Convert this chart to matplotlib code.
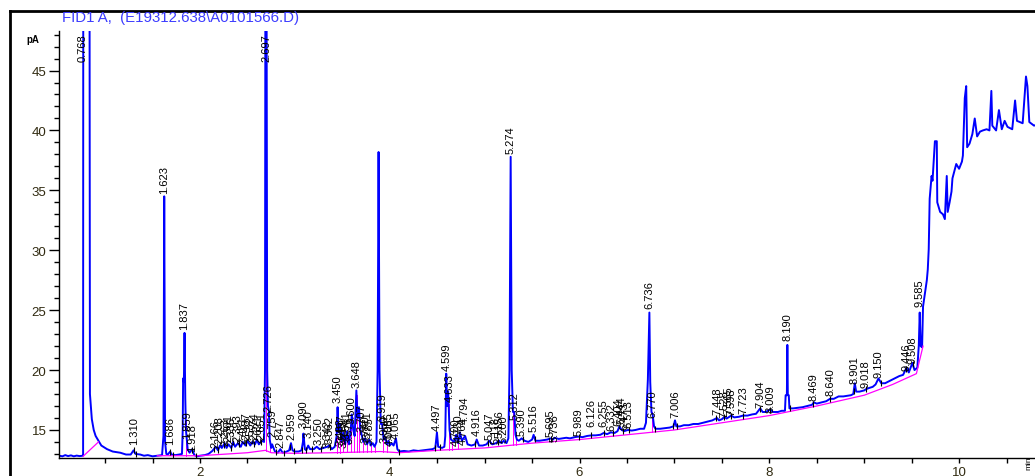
"""FID1 A chromatogram with peak retention time labels
"""
import numpy as np
import matplotlib
matplotlib.use('Agg')
import matplotlib.pyplot as plt
from matplotlib.lines import Line2D

title = 'FID1 A,  (E19312.638\\A0101566.D)'

# signal trace: (time min, signal pA)
trace = [
  (0.52, 12.85), (0.55, 12.80), (0.58, 12.90), (0.61, 12.82), (0.64, 12.88), (0.67, 12.80),
  (0.70, 12.86), (0.73, 12.82), (0.765, 12.85), (0.768, 12.9), (0.770, 60.0), (0.835, 60.0),
  (0.840, 18.0), (0.86, 15.9), (0.88, 15.0), (0.90, 14.5), (0.93, 14.1), (0.96, 13.7),
  (1.02, 13.4), (1.08, 13.2), (1.16, 13.1), (1.22, 12.95), (1.27, 12.95), (1.30, 13.3),
  (1.32, 13.0), (1.37, 12.95), (1.41, 12.85), (1.45, 12.9), (1.50, 12.8), (1.55, 12.85),
  (1.60, 12.9), (1.615, 14.5), (1.623, 34.5), (1.632, 14.0), (1.645, 13.0), (1.66, 12.95),
  (1.686, 13.2), (1.70, 12.95), (1.74, 12.9), (1.78, 12.95), (1.81, 13.0), (1.818, 15.0),
  (1.822, 19.3), (1.830, 19.0), (1.837, 23.1), (1.845, 17.6), (1.852, 15.0), (1.859, 14.4),
  (1.87, 13.4), (1.89, 13.1), (1.918, 13.4), (1.94, 12.9), (1.97, 12.8), (2.00, 12.85),
  (2.05, 12.9), (2.09, 13.0), (2.13, 13.25), (2.166, 13.6), (2.19, 13.3), (2.21, 13.7),
  (2.23, 13.5), (2.26, 13.9), (2.28, 13.5), (2.30, 13.8), (2.33, 13.5), (2.35, 14.0),
  (2.37, 13.6), (2.40, 13.9), (2.43, 13.6), (2.45, 14.0), (2.48, 13.7), (2.50, 14.1),
  (2.53, 13.7), (2.55, 14.0), (2.58, 13.8), (2.60, 14.2), (2.62, 13.8), (2.65, 14.1),
  (2.675, 14.0), (2.685, 20.0), (2.690, 60.0), (2.700, 60.0), (2.708, 20.0), (2.716, 17.0),
  (2.726, 16.6), (2.735, 14.2), (2.75, 13.5), (2.76, 13.8), (2.79, 13.2), (2.82, 13.1),
  (2.847, 13.4), (2.87, 13.1), (2.90, 13.15), (2.94, 13.3), (2.959, 13.9), (2.975, 13.3),
  (3.00, 13.2), (3.04, 13.2), (3.07, 13.3), (3.085, 14.0), (3.090, 14.7), (3.105, 13.4),
  (3.12, 13.3), (3.14, 13.7), (3.16, 13.4), (3.20, 13.4), (3.23, 13.6), (3.26, 13.4),
  (3.30, 13.5), (3.342, 13.6), (3.362, 13.7), (3.39, 13.4), (3.42, 13.6), (3.44, 14.5),
  (3.450, 16.9), (3.46, 14.8), (3.475, 15.5), (3.49, 14.0), (3.51, 14.8), (3.53, 13.8),
  (3.55, 14.9), (3.57, 13.8), (3.59, 15.2), (3.60, 16.3), (3.615, 15.0), (3.63, 14.5),
  (3.648, 18.3), (3.66, 16.0), (3.675, 16.9), (3.69, 15.0), (3.707, 14.5), (3.72, 14.0),
  (3.74, 14.3), (3.76, 13.8), (3.785, 14.2), (3.80, 13.7), (3.82, 13.9), (3.84, 13.6),
  (3.86, 14.0), (3.872, 20.0), (3.882, 38.2), (3.892, 20.0), (3.905, 15.5), (3.919, 15.5),
  (3.935, 14.2), (3.95, 14.4), (3.97, 13.8), (3.985, 14.1), (4.00, 13.7), (4.02, 13.9),
  (4.04, 13.7), (4.065, 14.3), (4.08, 13.4), (4.10, 13.2), (4.15, 13.25), (4.20, 13.2),
  (4.25, 13.3), (4.30, 13.25), (4.35, 13.3), (4.40, 13.35), (4.45, 13.4), (4.48, 13.5),
  (4.497, 14.8), (4.51, 13.6), (4.55, 13.5), (4.575, 13.6), (4.585, 14.5), (4.595, 19.7),
  (4.605, 17.0), (4.615, 18.2), (4.63, 15.0), (4.645, 14.2), (4.68, 14.0), (4.70, 14.6),
  (4.72, 13.9), (4.74, 14.8), (4.76, 14.1), (4.794, 14.5), (4.82, 13.8), (4.86, 13.7),
  (4.90, 13.8), (4.916, 14.2), (4.94, 13.7), (4.98, 13.7), (5.02, 13.8), (5.047, 14.1),
  (5.08, 13.8), (5.12, 13.9), (5.15, 14.1), (5.18, 13.9), (5.20, 14.1), (5.23, 13.9),
  (5.25, 14.3), (5.262, 20.0), (5.274, 37.8), (5.285, 20.0), (5.298, 16.5), (5.312, 16.5),
  (5.325, 14.6), (5.34, 14.2), (5.36, 14.1), (5.390, 14.3), (5.42, 14.1), (5.46, 14.0),
  (5.50, 14.2), (5.516, 14.6), (5.535, 14.1), (5.58, 14.1), (5.62, 14.15), (5.66, 14.2),
  (5.695, 14.3), (5.72, 14.2), (5.736, 14.35), (5.78, 14.25), (5.82, 14.3), (5.86, 14.35),
  (5.90, 14.3), (5.95, 14.4), (5.989, 14.45), (6.03, 14.4), (6.08, 14.5), (6.126, 14.55),
  (6.17, 14.55), (6.22, 14.6), (6.255, 14.75), (6.29, 14.65), (6.33, 14.8), (6.37, 14.75),
  (6.40, 14.9), (6.42, 15.3), (6.444, 15.0), (6.47, 14.9), (6.51, 15.0), (6.55, 14.95),
  (6.59, 15.0), (6.64, 15.1), (6.68, 15.1), (6.70, 15.6), (6.72, 19.2), (6.736, 24.8),
  (6.745, 19.0), (6.758, 16.5), (6.770, 16.3), (6.785, 15.3), (6.80, 15.1), (6.85, 15.1),
  (6.90, 15.15), (6.95, 15.2), (6.99, 15.3), (7.006, 15.8), (7.02, 15.3), (7.06, 15.3),
  (7.10, 15.4), (7.15, 15.4), (7.20, 15.5), (7.25, 15.5), (7.30, 15.6), (7.35, 15.7),
  (7.40, 15.8), (7.448, 16.0), (7.47, 15.8), (7.50, 15.9), (7.528, 16.1), (7.55, 15.95),
  (7.598, 16.2), (7.63, 16.05), (7.68, 16.1), (7.723, 16.2), (7.77, 16.2), (7.82, 16.3),
  (7.86, 16.35), (7.904, 16.8), (7.93, 16.5), (7.96, 16.5), (8.009, 16.7), (8.04, 16.5),
  (8.09, 16.5), (8.13, 16.6), (8.165, 16.6), (8.172, 17.9), (8.185, 17.9), (8.190, 22.1),
  (8.195, 17.9), (8.205, 17.9), (8.212, 16.8), (8.25, 16.8), (8.30, 16.85), (8.35, 16.9),
  (8.40, 17.0), (8.45, 17.1), (8.469, 17.3), (8.50, 17.2), (8.55, 17.3), (8.60, 17.4),
  (8.640, 17.6), (8.68, 17.6), (8.73, 17.8), (8.78, 17.8), (8.82, 17.85), (8.86, 17.9),
  (8.885, 18.0), (8.901, 18.9), (8.915, 18.2), (8.95, 18.2), (9.00, 18.3), (9.018, 18.4),
  (9.05, 18.5), (9.09, 18.6), (9.12, 18.8), (9.150, 19.3), (9.18, 18.9), (9.22, 18.9),
  (9.27, 19.1), (9.32, 19.3), (9.37, 19.5), (9.41, 19.6), (9.446, 20.2), (9.47, 19.8),
  (9.508, 20.6), (9.53, 20.0), (9.56, 20.2), (9.575, 22.0), (9.585, 24.8), (9.595, 22.0),
  (9.61, 21.9), (9.62, 25.3), (9.66, 27.5), (9.67, 28.4), (9.68, 30.1), (9.69, 34.3),
  (9.71, 36.2), (9.72, 35.8), (9.745, 39.1), (9.765, 39.1), (9.77, 34.0), (9.80, 33.2),
  (9.83, 33.0), (9.85, 32.6), (9.87, 36.2), (9.88, 33.2), (9.90, 34.0), (9.92, 34.9),
  (9.93, 36.0), (9.97, 37.2), (10.00, 36.8), (10.03, 37.4), (10.04, 37.9), (10.06, 42.7),
  (10.075, 43.7), (10.085, 38.6), (10.11, 38.9), (10.14, 39.7), (10.165, 41.0), (10.19, 39.5),
  (10.22, 39.9), (10.25, 40.0), (10.29, 40.1), (10.32, 40.0), (10.34, 43.3), (10.35, 40.4),
  (10.39, 40.0), (10.42, 41.7), (10.45, 40.1), (10.48, 40.8), (10.51, 40.3), (10.56, 40.1),
  (10.59, 42.5), (10.61, 40.8), (10.64, 40.7), (10.67, 40.6), (10.705, 44.5), (10.72, 43.7),
  (10.74, 40.7), (10.79, 40.4), (10.82, 40.5),
]

# integration baseline (magenta)
solvent_base = [(0.768, 12.8), (0.93, 14.0)]
base = [
  (1.55, 12.85), (2.0, 12.85), (2.5, 13.1), (2.69, 13.3), (2.75, 13.1), (3.0, 13.05),
  (3.4, 13.1), (3.9, 13.2), (4.1, 13.1), (4.5, 13.3), (5.0, 13.5), (5.5, 13.9),
  (6.0, 14.2), (6.5, 14.6), (7.0, 15.0), (7.5, 15.6), (8.0, 16.2), (8.5, 17.0),
  (9.0, 17.9), (9.3, 18.8), (9.55, 19.7), (9.62, 22.0),
]
# peak drop lines and start/stop ticks
drop_t = [1.85, 2.70, 2.74, 3.44, 3.475, 3.51, 3.55, 3.59, 3.62, 3.65, 3.68, 3.72,
          3.76, 3.80, 3.84, 3.93, 3.97, 4.62, 4.66, 4.72, 5.30, 5.33, 6.76]
tick_t = [1.30, 1.33, 1.68, 1.72, 1.92, 1.96, 2.15, 2.19, 2.25, 2.33, 2.41, 2.49, 2.57,
          2.64, 2.80, 2.88, 2.95, 2.99, 3.07, 3.12, 3.18, 3.28, 3.37, 4.10, 4.48, 4.53,
          4.90, 5.03, 5.14, 5.40, 5.53, 5.70, 5.99, 6.12, 6.26, 6.35, 6.46, 6.52, 6.80,
          6.99, 7.03, 7.44, 7.52, 7.60, 7.72, 7.90, 8.01, 8.22, 8.46, 8.64, 8.89, 9.02,
          9.18, 9.44, 9.51]

# retention time labels: (rt, bottom of text in pA)
labels = [
  (0.768, 45.7), (1.310, 13.7), (1.623, 34.7), (1.686, 13.7), (1.837, 23.3), (1.859, 14.2),
  (1.918, 13.1), (2.166, 13.5), (2.208, 13.8), (2.263, 13.6), (2.301, 14.0), (2.336, 13.7),
  (2.393, 14.0), (2.451, 13.8), (2.487, 14.1), (2.532, 13.8), (2.574, 14.1), (2.621, 13.9),
  (2.651, 14.1), (2.697, 45.7), (2.726, 16.5), (2.759, 14.4), (2.847, 13.5), (2.959, 14.1),
  (3.090, 15.1), (3.140, 14.3), (3.250, 13.7), (3.342, 13.5), (3.362, 13.8), (3.450, 17.2),
  (3.483, 13.6), (3.497, 14.0), (3.513, 13.5), (3.541, 14.2), (3.576, 13.8), (3.600, 15.5),
  (3.648, 18.5), (3.707, 14.8), (3.740, 13.9), (3.771, 14.2), (3.785, 13.7), (3.919, 15.7),
  (3.950, 13.9), (3.985, 14.1), (4.005, 13.6), (4.065, 14.2), (4.497, 14.9), (4.599, 19.9),
  (4.633, 17.3), (4.700, 13.6), (4.730, 14.0), (4.764, 13.7), (4.794, 15.5), (4.916, 14.5),
  (5.047, 14.1), (5.118, 13.8), (5.156, 14.3), (5.200, 13.9), (5.274, 38.0), (5.312, 15.8),
  (5.390, 14.5), (5.516, 14.8), (5.695, 14.4), (5.736, 14.0), (5.989, 14.5), (6.126, 15.2),
  (6.255, 15.2), (6.332, 14.9), (6.404, 15.3), (6.444, 15.5), (6.473, 15.0), (6.513, 15.1),
  (6.736, 25.1), (6.770, 16.0), (7.006, 16.0), (7.448, 16.2), (7.528, 16.0), (7.565, 16.3),
  (7.598, 16.1), (7.723, 16.3), (7.904, 16.8), (8.009, 16.4), (8.190, 22.4), (8.469, 17.4),
  (8.640, 17.8), (8.901, 18.8), (9.018, 18.5), (9.150, 19.3), (9.446, 19.9), (9.508, 20.5),
  (9.585, 25.2),
]

xmin, xmax = 0.514, 10.80
ymin, ymax = 12.66, 48.3

t, sig = np.array(trace).T
bt, by = np.array(base).T
st, sy = np.array(solvent_base).T

fig = plt.figure(figsize=(10.35, 4.77), dpi=100)
ax = fig.add_axes([59 / 1035, 1 - 459 / 477, 1 - 59 / 1035, (459 - 32) / 477])

ax.plot(st, sy, color='#ff00ff', lw=0.9, zorder=3)
ax.plot(t, sig, color='#0000ff', lw=1.4, zorder=2)
ax.plot(bt, by, color='#ff00ff', lw=0.9, zorder=3)

# drop lines from trace to baseline
for d in drop_t:
  ax.plot([d, d], [np.interp(d, bt, by), np.interp(d, t, sig)], color='#ff00ff', lw=0.7, zorder=1)
ax.plot(tick_t, np.interp(tick_t, t, sig), ls='none', marker='|', ms=4, mew=0.8,
        color='black', zorder=4)

for rt, yb in labels:
  ax.annotate(f'{rt:.3f}', (rt, yb), xytext=(0, 1), textcoords='offset points',
              rotation=90, ha='center', va='bottom', fontsize=8,
              family='Liberation Sans', color='black', zorder=5, annotation_clip=False)

ax.set_xlim(xmin, xmax)
ax.set_ylim(ymin, ymax)
ax.set_xticks([2, 4, 6, 8, 10])
ax.set_xticks(np.arange(1, 11, 0.5), minor=True)
ax.set_yticks([15, 20, 25, 30, 35, 40, 45])
ax.set_yticks(np.arange(13, 49, 1), minor=True)
ax.tick_params(axis='y', which='major', length=7, width=1, pad=2, labelsize=9.5)
ax.tick_params(axis='y', which='minor', length=3.5, width=1)
ax.tick_params(axis='x', which='both', length=3.6, width=1, pad=2, labelsize=9.5)
for lab in ax.get_xticklabels() + ax.get_yticklabels():
  lab.set_family('Liberation Sans')
  lab.set_color('#302a10')
for s in ['top', 'right']:
  ax.spines[s].set_visible(False)
for s in ['left', 'bottom']:
  ax.spines[s].set_linewidth(1.0)
ax.patch.set_visible(False)

# chemstation style header and outer frame
fig.text(62 / 1035, 1 - 18 / 477, title, color='#3c3cff', fontsize=10.8,
         family='Liberation Sans', va='center', ha='left')
fig.text(26 / 1035, 1 - 40 / 477, 'pA', fontsize=7, family='Liberation Sans',
         weight='bold', va='center', ha='left')
fig.text(1029 / 1035, 1 - 470 / 477, 'min', fontsize=6, family='Liberation Sans',
         rotation=90, va='bottom', ha='center')
fig.add_artist(Line2D([10 / 1035, 1.0], [1 - 12 / 477, 1 - 12 / 477], color='black', lw=2))
fig.add_artist(Line2D([10 / 1035, 10 / 1035], [0, 1 - 12 / 477], color='black', lw=2))

fig.savefig('out.png', dpi=100)
